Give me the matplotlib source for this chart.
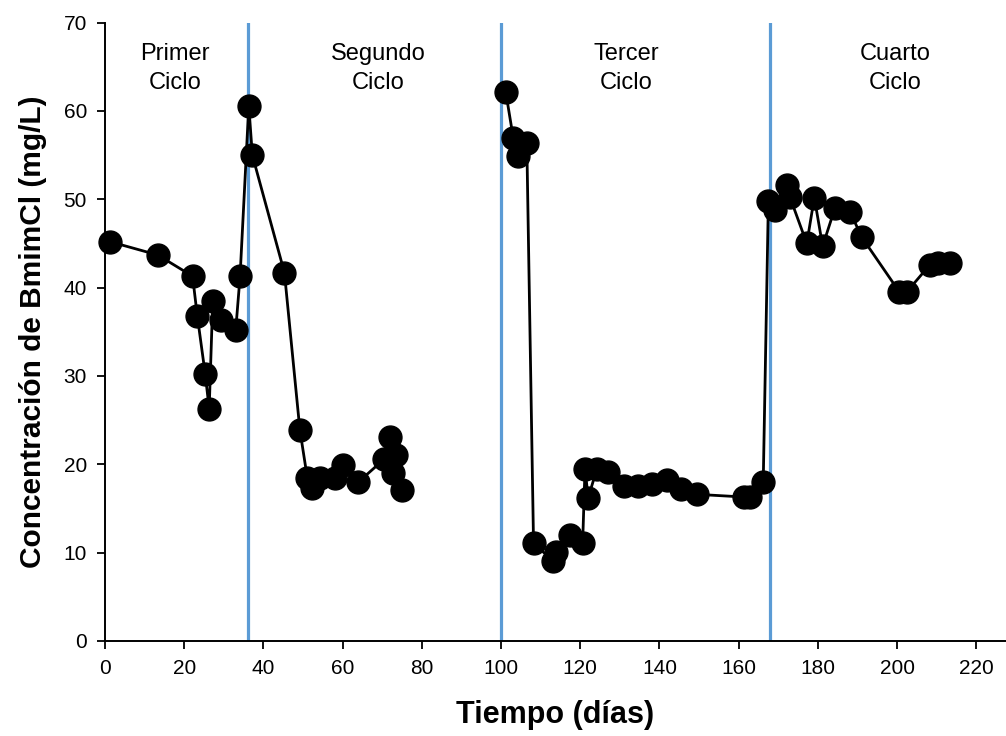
import matplotlib
matplotlib.use("Agg")
import matplotlib.pyplot as plt

plt.rcParams['font.family'] = ['Liberation Sans', 'DejaVu Sans']

# Data (días, mg/L)
dias = [1.3, 13.3, 22.1, 23.3, 25.3, 26.3, 27.2, 29.3, 33.0, 34.1, 36.3, 37.2,
        45.3, 49.2, 51.1, 52.2, 54.3, 58.1, 60.2, 64.0, 70.5, 72.0, 73.5, 72.7, 75.0,
        101.2, 103.1, 104.2, 106.5, 108.2, 113.2, 113.8, 117.3, 120.6, 121.2, 122.0,
        124.2, 127.1, 131.0, 134.5, 138.0, 142.0, 145.5, 149.5, 161.3, 162.8, 166.2,
        167.5, 169.2, 172.1, 172.9, 177.2, 179.1, 181.2, 184.3, 188.1, 191.1,
        200.6, 202.4, 208.3, 210.4, 213.4]
conc = [45.2, 43.7, 41.3, 36.8, 30.2, 26.3, 38.5, 36.3, 35.2, 41.3, 60.6, 55.0,
        41.7, 23.9, 18.4, 17.3, 18.4, 18.4, 19.9, 18.0, 20.6, 23.1, 21.0, 19.0, 17.1,
        62.1, 56.9, 54.9, 56.4, 11.1, 9.0, 10.1, 12.0, 11.1, 19.5, 16.2,
        19.5, 19.1, 17.6, 17.5, 17.8, 18.2, 17.2, 16.6, 16.3, 16.3, 18.0,
        49.8, 48.8, 51.6, 50.3, 45.0, 50.2, 44.7, 49.0, 48.6, 45.7,
        39.5, 39.5, 42.6, 42.8, 42.8]

ciclos_x = [36, 100, 168]
etiquetas = ["Primer\nCiclo", "Segundo\nCiclo", "Tercer\nCiclo", "Cuarto\nCiclo"]
etiquetas_x = [17.7, 68.9, 131.6, 199.5]
etiquetas_y = 64.8

xticks = list(range(0, 221, 20))
yticks = list(range(0, 71, 10))

fig = plt.figure(figsize=(10.06, 7.36), dpi=100)
ax = fig.add_axes([0.1044, 0.1291, 0.8956, 0.8401])

for xv in ciclos_x:
    ax.axvline(xv, color='#5B9BD5', lw=2.3, zorder=1)

# split the series where there is a gap in sampling (no line across it)
breaks = [0] + [i for i in range(1, len(dias)) if dias[i] - dias[i - 1] > 20] + [len(dias)]
for a, b in zip(breaks[:-1], breaks[1:]):
    ax.plot(dias[a:b], conc[a:b], color='black', lw=2.0, marker='o', ms=16.5,
            markerfacecolor='black', markeredgecolor='black', zorder=3, clip_on=False)

for t, xv in zip(etiquetas, etiquetas_x):
    ax.text(xv, etiquetas_y, t, ha='center', va='center', fontsize=17,
            linespacing=1.45, color='black')

ax.set_xlim(0, 227.5)
ax.set_ylim(0, 70)
ax.set_xticks(xticks)
ax.set_yticks(yticks)
ax.tick_params(direction='out', length=6, width=1.3, labelsize=15, colors='black', pad=7)
for s in ['top', 'right']:
    ax.spines[s].set_visible(False)
for s in ['left', 'bottom']:
    ax.spines[s].set_linewidth(1.4)
    ax.spines[s].set_color('black')

ax.set_xlabel('Tiempo (días)', fontsize=22, fontweight='bold', labelpad=16)
ax.set_ylabel('Concentración de BmimCl (mg/L)', fontsize=21.5, fontweight='bold', labelpad=12)

fig.savefig('out.png', dpi=100)
